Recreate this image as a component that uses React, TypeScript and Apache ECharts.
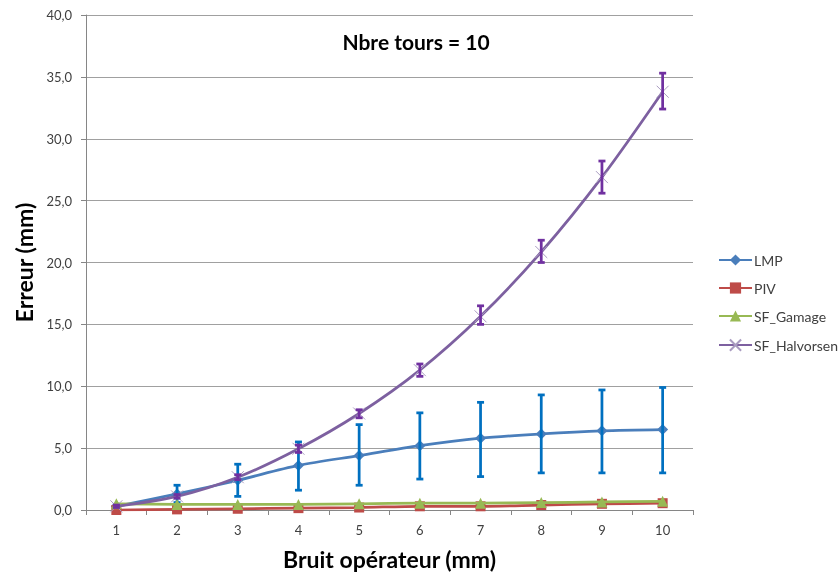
import React, { useEffect, useRef } from "react";
import * as echarts from "echarts";

const categories = ["1", "2", "3", "4", "5", "6", "7", "8", "9", "10"];
const seriesNames = ["LMP", "PIV", "SF_Gamage", "SF_Halvorsen"];

const lmp = [0.3, 1.3, 2.4, 3.6, 4.4, 5.2, 5.8, 6.15, 6.4, 6.5];
const lmpLow = [0.2, 0.6, 1.1, 1.6, 2.0, 2.5, 2.7, 3.0, 3.0, 3.0];
const lmpHigh = [0.4, 2.0, 3.7, 5.5, 6.9, 7.85, 8.7, 9.3, 9.7, 9.9];

const piv = [0.0, 0.05, 0.1, 0.15, 0.2, 0.3, 0.3, 0.4, 0.5, 0.55];
const gamage = [0.5, 0.45, 0.45, 0.45, 0.5, 0.55, 0.55, 0.6, 0.65, 0.7];

const halv = [0.3, 1.1, 2.65, 4.95, 7.8, 11.3, 15.65, 20.85, 26.9, 33.8];
const halvLow = [0.2, 0.95, 2.45, 4.65, 7.45, 10.8, 15.0, 20.0, 25.6, 32.4];
const halvHigh = [0.4, 1.25, 2.85, 5.25, 8.1, 11.8, 16.5, 21.8, 28.2, 35.3];

const yTicks = { min: 0, max: 40, interval: 5 };

const FONT = "Lato, 'Liberation Sans', sans-serif";

function errorSeries(low: number[], high: number[], color: string, z: number) {
  return {
    type: "custom",
    name: "err" + color,
    z,
    silent: true,
    data: low.map((l, i) => [i, l, high[i]]),
    encode: { x: 0, y: [1, 2] },
    renderItem: (params: any, api: any) => {
      const i = api.value(0);
      const lo = api.coord([i, api.value(1)]);
      const hi = api.coord([i, api.value(2)]);
      const cap = 3.5;
      const style = { stroke: color, lineWidth: 2.75 };
      return {
        type: "group",
        children: [
          { type: "line", shape: { x1: lo[0], y1: lo[1], x2: hi[0], y2: hi[1] }, style },
          { type: "line", shape: { x1: lo[0] - cap, y1: lo[1], x2: lo[0] + cap, y2: lo[1] }, style },
          { type: "line", shape: { x1: hi[0] - cap, y1: hi[1], x2: hi[0] + cap, y2: hi[1] }, style },
        ],
      };
    },
  };
}

export default function App() {
  const ref = useRef<HTMLDivElement>(null);
  useEffect(() => {
    if (!ref.current) return;
    const chart = echarts.init(ref.current, undefined, { renderer: "svg" });
    chart.setOption({
      animation: false,
      textStyle: { fontFamily: FONT },
      grid: { left: 86, right: 145, top: 15, bottom: 63 },
      graphic: [
        {
          type: "text",
          x: 416,
          y: 41,
          style: {
            text: "Nbre tours = 10",
            font: "bold 21px " + FONT,
            fill: "#000",
            align: "center",
            verticalAlign: "middle",
          },
        },
      ],
      legend: {
        orient: "vertical",
        left: 713,
        top: 248,
        itemGap: 14,
        itemWidth: 33,
        itemHeight: 14,
        data: seriesNames,
        textStyle: { fontSize: 14, color: "#404040", fontFamily: FONT, padding: [0, 0, 0, -3] },
      },
      xAxis: {
        type: "category",
        data: categories,
        boundaryGap: true,
        name: "Bruit opérateur (mm)",
        nameLocation: "middle",
        nameGap: 37,
        nameTextStyle: { fontSize: 23, fontWeight: "bold", color: "#000", fontFamily: FONT },
        axisLine: { lineStyle: { color: "#868686" } },
        axisTick: { show: true, alignWithLabel: false, length: 5, lineStyle: { color: "#868686" } },
        axisLabel: { fontSize: 13, color: "#404040", margin: 13 },
        splitLine: { show: false },
      },
      yAxis: {
        type: "value",
        ...yTicks,
        name: "Erreur (mm)",
        nameLocation: "middle",
        nameGap: 50,
        nameTextStyle: { fontSize: 23, fontWeight: "bold", color: "#000", fontFamily: FONT },
        axisLine: { show: true, lineStyle: { color: "#868686" } },
        axisTick: { show: true, length: 5, lineStyle: { color: "#868686" } },
        axisLabel: {
          fontSize: 13,
          color: "#404040",
          margin: 14,
          formatter: (v: number) => v.toFixed(1).replace(".", ","),
        },
        splitLine: { lineStyle: { color: "#a0a0a0", width: 1 } },
      },
      series: [
        {
          name: "LMP",
          type: "line",
          data: lmp,
          smooth: 0.3,
          symbol: "diamond",
          symbolSize: 11,
          lineStyle: { color: "#4A7EBB", width: 2.75 },
          itemStyle: { color: "#4A7EBB" },
          z: 3,
        },
        errorSeries(lmpLow, lmpHigh, "#0070C0", 4),
        {
          name: "PIV",
          type: "line",
          data: piv,
          smooth: 0.3,
          symbol: "rect",
          symbolSize: 10,
          lineStyle: { color: "#BE4B48", width: 2.75 },
          itemStyle: { color: "#BE4B48" },
          z: 5,
        },
        {
          name: "SF_Gamage",
          type: "line",
          data: gamage,
          smooth: 0.3,
          symbol: "triangle",
          symbolSize: 11,
          lineStyle: { color: "#98B954", width: 2.75 },
          itemStyle: { color: "#98B954" },
          z: 6,
        },
        {
          name: "SF_Halvorsen",
          type: "line",
          data: halv,
          smooth: 0.3,
          symbol: "path://M0,0L10,10M10,0L0,10",
          symbolSize: 12,
          lineStyle: { color: "#7D60A0", width: 2.75 },
          itemStyle: { color: "none", borderColor: "#A99BC0", borderWidth: 1 },
          z: 7,
        },
        errorSeries(halvLow, halvHigh, "#7030A0", 8),
      ],
    });
    return () => chart.dispose();
  }, []);
  return (
    <div
      ref={ref}
      style={{ position: "fixed", left: 0, top: 0, width: 838, height: 575, overflow: "hidden" }}
    />
  );
}
